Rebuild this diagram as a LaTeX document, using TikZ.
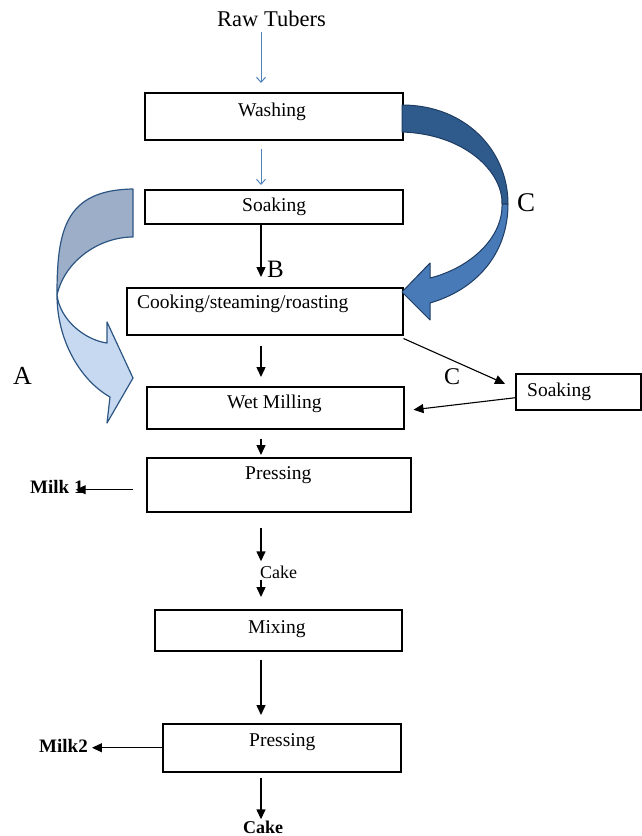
\documentclass[tikz,border=0pt]{standalone}
\usepackage{fontspec}
\setmainfont{Liberation Serif}
\usetikzlibrary{arrows.meta}
\definecolor{lineblue}{HTML}{4F81BD}
\definecolor{cUp}{HTML}{2F5A8C}
\definecolor{cLow}{HTML}{487AB8}
\definecolor{cBorder}{HTML}{1F3D63}
\definecolor{aUp}{HTML}{9CAEC8}
\definecolor{aLow}{HTML}{C6D9F0}
\definecolor{aBorder}{HTML}{2C5583}
\begin{document}
\begin{tikzpicture}[x=1pt,y=-1pt,
  box/.style={draw, line width=1.5pt, inner sep=0pt, anchor=north west},
  txt/.style={inner sep=0pt, anchor=west, text height=0.7em, text depth=0.2em},
  bodyfont/.style={font=\fontsize{19.5}{21}\selectfont},
  arr/.style={line width=1.4pt, -{Triangle[length=10pt,width=9pt]}},
  thinarr/.style={line width=1.1pt, -{Triangle[length=10pt,width=9pt]}},
  barr/.style={line width=1pt, lineblue, -{Straight Barb[length=5pt,width=9pt]}}]
\useasboundingbox (0,0) rectangle (641,836);

% boxes
\node[box, minimum width=258pt, minimum height=47pt] (wash) at (144,92) {};
\node[box, minimum width=258pt, minimum height=34pt] (soak1) at (144,189) {};
\node[box, minimum width=276pt, minimum height=47pt] (cook) at (126,287) {};
\node[box, minimum width=257pt, minimum height=42pt] (mill) at (146,386) {};
\node[box, minimum width=264pt, minimum height=54pt] (press1) at (146,457) {};
\node[box, minimum width=247pt, minimum height=41pt] (mix) at (154,609) {};
\node[box, minimum width=238pt, minimum height=48pt] (press2) at (162,723) {};
\node[box, minimum width=125pt, minimum height=36pt] (soak2) at (515,373) {};

% texts
\node[txt, font=\fontsize{22.5}{24}\selectfont] (raw) at (217,24) {Raw Tubers};
\node[txt, bodyfont] (washt) at (238,114) {Washing};
\node[txt, bodyfont] (soak1t) at (242,209) {Soaking};
\node[txt, font=\fontsize{25}{27}\selectfont] (B) at (267,275) {B};
\node[txt, bodyfont] (cookt) at (137,306) {Cooking/steaming/roasting};
\node[txt, bodyfont] (millt) at (227,406) {Wet Milling};
\node[txt, bodyfont] (soak2t) at (527,394) {Soaking};
\node[txt, font=\fontsize{24}{26}\selectfont] (Clow) at (444,382) {C};
\node[txt, font=\fontsize{26}{28}\selectfont] (A) at (13,382) {A};
\node[txt, font=\fontsize{27}{29}\selectfont] (Cright) at (517,209) {C};
\node[txt, bodyfont] (press1t) at (245,477) {Pressing};
\node[txt, font=\fontsize{19}{21}\selectfont\bfseries] (milk1) at (30,491) {Milk 1};
\node[txt, font=\fontsize{18}{20}\selectfont] (cake1) at (260,576) {Cake};
\node[txt, bodyfont] (mixt) at (248,631) {Mixing};
\node[txt, bodyfont] (press2t) at (249,744) {Pressing};
\node[txt, font=\fontsize{19}{21}\selectfont\bfseries] (milk2) at (39,750) {Milk2};
\node[txt, font=\fontsize{18}{20}\selectfont\bfseries] (cake2) at (243,831) {Cake};

\coordinate (col) at (261,0);
\coordinate (m1s) at ([xshift=-13pt,yshift=-5pt]press1.west);

% vertical connectors
\draw[barr, shorten <=3pt, shorten >=9pt] (raw.south -| col) -- (wash.north -| col);
\draw[barr, shorten <=8pt, shorten >=4pt] (wash.south -| col) -- (soak1.north -| col);
\draw[arr, shorten >=10pt] (soak1.south -| col) -- (cook.north -| col);
\draw[arr, shorten <=10pt, shorten >=9pt] (cook.south -| col) -- (mill.north -| col);
\draw[arr, shorten <=9pt, shorten >=2pt] (mill.south -| col) -- (press1.north -| col);
\draw[arr, shorten <=15pt, shorten >=10pt] (press1.south -| col) -- (cake1.north -| col);
\draw[arr, shorten <=-1pt, shorten >=12pt] (cake1.south -| col) -- (mix.north -| col);
\draw[arr, shorten <=8pt, shorten >=8pt] (mix.south -| col) -- (press2.north -| col);
\draw[arr, shorten <=5pt, shorten >=7pt] (press2.south -| col) -- (cake2.north -| col);

% side connectors
\draw[thinarr] ([yshift=-3pt]cook.south east) -- ([xshift=-10pt,yshift=8pt]soak2.west);
\draw[thinarr] ([yshift=-6pt]soak2.west) -- ([xshift=9pt,yshift=-2pt]mill.east);
\draw[thinarr, shorten >=-8pt] (m1s) -- (milk1.east |- m1s);
\draw[thinarr, shorten >=4pt] (press2.west) -- (milk2.east |- press2.west);

% curved arrow C (right)
\filldraw[fill=cUp, draw=cBorder, line width=1pt, line join=round]
  (402,105) .. controls (465,105) and (508,150) .. (508,204)
  -- (502,204) .. controls (503,172) and (465,134) .. (402,132) -- cycle;
\filldraw[fill=cLow, draw=cBorder, line width=1pt, line join=round]
  (508,204) .. controls (508,255) and (475,290) .. (430,303)
  -- (430,320) -- (402,292) -- (430,263) -- (430,278)
  .. controls (470,268) and (503,238) .. (502,204) -- cycle;

% curved arrow A (left)
\filldraw[fill=aUp, draw=aBorder, line width=1.2pt, line join=round]
  (133,189) .. controls (65,190) and (57,230) .. (57,295)
  .. controls (65,260) and (100,237) .. (133,237) -- cycle;
\filldraw[fill=aLow, draw=aBorder, line width=1.2pt, line join=round]
  (57,295) .. controls (57,340) and (80,380) .. (110,397)
  -- (107,423) -- (133,378) -- (107,322) -- (107,343)
  .. controls (85,340) and (60,320) .. (57,295) -- cycle;
\end{tikzpicture}
\end{document}
